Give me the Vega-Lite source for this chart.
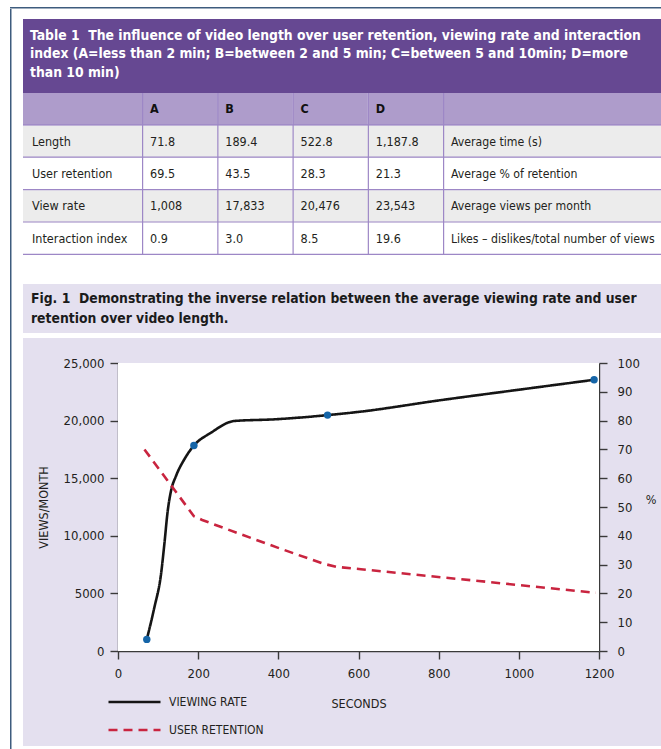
{
  "$schema": "https://vega.github.io/schema/vega-lite/v6.json",
  "padding": {"left": 10, "top": 7, "right": 0, "bottom": 0},
  "background": "#ffffff",
  "config": {
    "view": {"stroke": null},
    "font": "Liberation Sans Narrow, DejaVu Sans Condensed, Roboto Condensed, Liberation Sans, sans-serif",
    "text": {"font": "Liberation Sans Narrow, DejaVu Sans Condensed, Roboto Condensed, Liberation Sans, sans-serif"},
    "axis": {"zindex": 1, "grid": false, "domainColor": "#3a3a3a", "domainWidth": 1.4, "tickColor": "#3a3a3a", "tickWidth": 1.4, "tickSize": 8, "labelFont": "Liberation Sans Narrow, DejaVu Sans Condensed, Roboto Condensed, Liberation Sans, sans-serif", "labelFontSize": 13, "labelColor": "#231f20", "titleFont": "Liberation Sans Narrow, DejaVu Sans Condensed, Roboto Condensed, Liberation Sans, sans-serif", "titleFontSize": 12.5, "titleFontWeight": "normal", "titleColor": "#231f20", "labelFlush": false, "labelOverlap": false, "labelBound": false},
    "axisLeft": {"offset": -95, "labelPadding": 6, "titlePadding": 13},
    "axisRight": {"offset": -63, "labelPadding": 10, "titlePadding": 6, "titleAngle": 0, "titleAlign": "left", "titleBaseline": "middle"},
    "axisBottom": {"offset": -95, "labelPadding": 8, "titlePadding": 17},
    "legend": {"labelFont": "Liberation Sans Narrow, DejaVu Sans Condensed, Roboto Condensed, Liberation Sans, sans-serif"}
  },
  "datasets": {
    "tableTitle": [
      {"block": "Table 1", "line": 1, "text": "Table 1\u00a0 The influence of video length over user retention, viewing rate and interaction"},
      {"block": "Table 1", "line": 2, "text": "index (A=less than 2 min; B=between 2 and 5 min; C=between 5 and 10min; D=more"},
      {"block": "Table 1", "line": 3, "text": "than 10 min)"}
    ],
    "figCaption": [
      {"block": "Fig. 1", "line": 1, "text": "Fig. 1\u00a0 Demonstrating the inverse relation between the average viewing rate and user"},
      {"block": "Fig. 1", "line": 2, "text": "retention over video length."}
    ],
    "cells": [
      {"row": "Header", "col": "label", "text": ""},
      {"row": "Header", "col": "A", "text": "A"},
      {"row": "Header", "col": "B", "text": "B"},
      {"row": "Header", "col": "C", "text": "C"},
      {"row": "Header", "col": "D", "text": "D"},
      {"row": "Header", "col": "desc", "text": ""},
      {"row": "Length", "col": "label", "text": "Length"},
      {"row": "Length", "col": "A", "text": "71.8"},
      {"row": "Length", "col": "B", "text": "189.4"},
      {"row": "Length", "col": "C", "text": "522.8"},
      {"row": "Length", "col": "D", "text": "1,187.8"},
      {"row": "Length", "col": "desc", "text": "Average time (s)"},
      {"row": "User retention", "col": "label", "text": "User retention"},
      {"row": "User retention", "col": "A", "text": "69.5"},
      {"row": "User retention", "col": "B", "text": "43.5"},
      {"row": "User retention", "col": "C", "text": "28.3"},
      {"row": "User retention", "col": "D", "text": "21.3"},
      {"row": "User retention", "col": "desc", "text": "Average % of retention"},
      {"row": "View rate", "col": "label", "text": "View rate"},
      {"row": "View rate", "col": "A", "text": "1,008"},
      {"row": "View rate", "col": "B", "text": "17,833"},
      {"row": "View rate", "col": "C", "text": "20,476"},
      {"row": "View rate", "col": "D", "text": "23,543"},
      {"row": "View rate", "col": "desc", "text": "Average views per month"},
      {"row": "Interaction index", "col": "label", "text": "Interaction index"},
      {"row": "Interaction index", "col": "A", "text": "0.9"},
      {"row": "Interaction index", "col": "B", "text": "3.0"},
      {"row": "Interaction index", "col": "C", "text": "8.5"},
      {"row": "Interaction index", "col": "D", "text": "19.6"},
      {"row": "Interaction index", "col": "desc", "text": "Likes \u2013 dislikes/total number of views"}
    ],
    "viewing": [
      {"series": "VIEWING RATE", "seconds": 71.8, "views": 1008},
      {"series": "VIEWING RATE", "seconds": 90.6, "views": 3760},
      {"series": "VIEWING RATE", "seconds": 107.3, "views": 6660},
      {"series": "VIEWING RATE", "seconds": 115.6, "views": 9260},
      {"series": "VIEWING RATE", "seconds": 124, "views": 12150},
      {"series": "VIEWING RATE", "seconds": 132.2, "views": 13890},
      {"series": "VIEWING RATE", "seconds": 144.7, "views": 15190},
      {"series": "VIEWING RATE", "seconds": 165.5, "views": 16640},
      {"series": "VIEWING RATE", "seconds": 189.4, "views": 17833},
      {"series": "VIEWING RATE", "seconds": 232, "views": 18950},
      {"series": "VIEWING RATE", "seconds": 290, "views": 19965},
      {"series": "VIEWING RATE", "seconds": 390, "views": 20110},
      {"series": "VIEWING RATE", "seconds": 522.8, "views": 20476},
      {"series": "VIEWING RATE", "seconds": 606, "views": 20780},
      {"series": "VIEWING RATE", "seconds": 800, "views": 21750},
      {"series": "VIEWING RATE", "seconds": 1000, "views": 22680},
      {"series": "VIEWING RATE", "seconds": 1187.8, "views": 23543}
    ],
    "markers": [
      {"group": "A", "seconds": 71.8, "views": 1008},
      {"group": "B", "seconds": 189.4, "views": 17833},
      {"group": "C", "seconds": 522.8, "views": 20476},
      {"group": "D", "seconds": 1187.8, "views": 23543}
    ],
    "retention": [
      {"series": "USER RETENTION", "seconds": 66, "pct": 70},
      {"series": "USER RETENTION", "seconds": 189.4, "pct": 46.8},
      {"series": "USER RETENTION", "seconds": 210, "pct": 45.5},
      {"series": "USER RETENTION", "seconds": 307, "pct": 40.5},
      {"series": "USER RETENTION", "seconds": 398, "pct": 35.9},
      {"series": "USER RETENTION", "seconds": 510, "pct": 30.4},
      {"series": "USER RETENTION", "seconds": 545, "pct": 29.2},
      {"series": "USER RETENTION", "seconds": 606, "pct": 28.4},
      {"series": "USER RETENTION", "seconds": 900, "pct": 24.3},
      {"series": "USER RETENTION", "seconds": 1192, "pct": 20.2}
    ]
  },
  "spacing": 0,
  "vconcat": [
    {"width": 651, "height": 1.5, "view": {"fill": "#3e5c7e"}, "data": {"values": []}, "mark": "point"},
    {
      "spacing": 0,
      "hconcat": [
        {"width": 1.5, "height": 740.5, "view": {"fill": "#3e5c7e"}, "data": {"values": []}, "mark": "point"},
        {"width": 10.5, "height": 1, "data": {"values": []}, "mark": "point"},
        {
          "spacing": 0,
          "vconcat": [
            {"width": 1, "height": 9.5, "data": {"values": []}, "mark": "point"},
            {
              "width": 639,
              "height": 74,
              "view": {"fill": "#664892"},
              "data": {"name": "tableTitle"},
              "mark": {"type": "text", "align": "left", "baseline": "middle", "color": "#ffffff", "fontSize": 13.8, "fontWeight": "bold", "dx": 7, "dy": -2},
              "encoding": {
                "x": {"field": "block", "type": "nominal", "bandPosition": 0, "axis": null, "scale": {"type": "band", "paddingInner": 0, "paddingOuter": 0}},
                "y": {"field": "line", "type": "ordinal", "axis": null, "scale": {"type": "point", "padding": 1.055}},
                "text": {"field": "text"}
              }
            },
            {
              "spacing": 0,
              "bounds": "flush",
              "hconcat": [
                {
                  "width": 119,
                  "height": 162,
                  "data": {"name": "cells"},
                  "transform": [{"filter": "datum.col === 'label'"}],
                  "layer": [
                    {
                      "mark": {"type": "rect"},
                      "encoding": {
                        "x": {"field": "col", "type": "nominal", "axis": null, "scale": {"type": "band", "paddingInner": 0, "paddingOuter": 0}},
                        "y": {"field": "row", "type": "nominal", "axis": null, "scale": {"type": "band", "domain": ["Header", "Length", "User retention", "View rate", "Interaction index"], "paddingInner": 0, "paddingOuter": 0}},
                        "fill": {"condition": [{"test": "datum.row === 'Header'", "value": "#ae9ccb"}, {"test": "datum.row === 'Length' || datum.row === 'View rate'", "value": "#ececec"}], "value": "#ffffff"}
                      }
                    },
                    {
                      "mark": {"type": "rule", "color": "#9d87c6", "strokeWidth": 1.2, "clip": true, "yOffset": -0.6},
                      "encoding": {"y": {"field": "row", "type": "nominal", "bandPosition": 1, "axis": null}}
                    },
                    {
                      "mark": {"type": "text", "align": "left", "baseline": "middle", "dx": 9, "fontSize": 12.5, "color": "#231f20"},
                      "encoding": {
                        "x": {"field": "col", "type": "nominal", "bandPosition": 0, "axis": null},
                        "y": {"field": "row", "type": "nominal", "bandPosition": 0.5, "axis": null},
                        "text": {"field": "text"}
                      }
                    }
                  ]
                },
                {
                  "width": 301,
                  "height": 162,
                  "data": {"name": "cells"},
                  "transform": [{"filter": "indexof(['A','B','C','D'], datum.col) >= 0"}],
                  "layer": [
                    {
                      "mark": {"type": "rect"},
                      "encoding": {
                        "x": {"field": "col", "type": "nominal", "axis": null, "scale": {"type": "band", "domain": ["A", "B", "C", "D"], "paddingInner": 0, "paddingOuter": 0}},
                        "y": {"field": "row", "type": "nominal", "axis": null, "scale": {"type": "band", "domain": ["Header", "Length", "User retention", "View rate", "Interaction index"], "paddingInner": 0, "paddingOuter": 0}},
                        "fill": {"condition": [{"test": "datum.row === 'Header'", "value": "#ae9ccb"}, {"test": "datum.row === 'Length' || datum.row === 'View rate'", "value": "#ececec"}], "value": "#ffffff"}
                      }
                    },
                    {
                      "transform": [{"filter": "datum.col === 'A'"}],
                      "mark": {"type": "rule", "color": "#9d87c6", "strokeWidth": 1.2, "clip": true, "yOffset": -0.6},
                      "encoding": {"y": {"field": "row", "type": "nominal", "bandPosition": 1, "axis": null}}
                    },
                    {
                      "transform": [{"filter": "datum.row === 'Header'"}],
                      "mark": {"type": "rule", "color": "#9d87c6", "strokeWidth": 1.2, "clip": true, "xOffset": 0.6},
                      "encoding": {"x": {"field": "col", "type": "nominal", "bandPosition": 0, "axis": null}}
                    },
                    {
                      "transform": [{"filter": "datum.row !== 'Header'"}],
                      "mark": {"type": "text", "align": "left", "baseline": "middle", "dx": 8, "fontSize": 12.5, "color": "#231f20"},
                      "encoding": {
                        "x": {"field": "col", "type": "nominal", "bandPosition": 0, "axis": null},
                        "y": {"field": "row", "type": "nominal", "bandPosition": 0.5, "axis": null},
                        "text": {"field": "text"}
                      }
                    },
                    {
                      "transform": [{"filter": "datum.row === 'Header'"}],
                      "mark": {"type": "text", "align": "left", "baseline": "middle", "dx": 8, "fontSize": 12.5, "fontWeight": "bold", "color": "#111111"},
                      "encoding": {
                        "x": {"field": "col", "type": "nominal", "bandPosition": 0, "axis": null},
                        "y": {"field": "row", "type": "nominal", "bandPosition": 0.5, "axis": null},
                        "text": {"field": "text"}
                      }
                    }
                  ]
                },
                {
                  "width": 219,
                  "height": 162,
                  "data": {"name": "cells"},
                  "transform": [{"filter": "datum.col === 'desc'"}],
                  "layer": [
                    {
                      "mark": {"type": "rect"},
                      "encoding": {
                        "x": {"field": "col", "type": "nominal", "axis": null, "scale": {"type": "band", "paddingInner": 0, "paddingOuter": 0}},
                        "y": {"field": "row", "type": "nominal", "axis": null, "scale": {"type": "band", "domain": ["Header", "Length", "User retention", "View rate", "Interaction index"], "paddingInner": 0, "paddingOuter": 0}},
                        "fill": {"condition": [{"test": "datum.row === 'Header'", "value": "#ae9ccb"}, {"test": "datum.row === 'Length' || datum.row === 'View rate'", "value": "#ececec"}], "value": "#ffffff"}
                      }
                    },
                    {
                      "mark": {"type": "rule", "color": "#9d87c6", "strokeWidth": 1.2, "clip": true, "yOffset": -0.6},
                      "encoding": {"y": {"field": "row", "type": "nominal", "bandPosition": 1, "axis": null}}
                    },
                    {
                      "transform": [{"filter": "datum.row === 'Header'"}],
                      "mark": {"type": "rule", "color": "#9d87c6", "strokeWidth": 1.2, "clip": true, "xOffset": 0.6},
                      "encoding": {"x": {"field": "col", "type": "nominal", "bandPosition": 0, "axis": null}}
                    },
                    {
                      "mark": {"type": "text", "align": "left", "baseline": "middle", "dx": 8, "fontSize": 12.2, "color": "#231f20"},
                      "encoding": {
                        "x": {"field": "col", "type": "nominal", "bandPosition": 0, "axis": null},
                        "y": {"field": "row", "type": "nominal", "bandPosition": 0.5, "axis": null},
                        "text": {"field": "text"}
                      }
                    }
                  ]
                }
              ]
            },
            {"width": 1, "height": 29, "data": {"values": []}, "mark": "point"},
            {
              "width": 639,
              "height": 49,
              "view": {"fill": "#e4e0ef"},
              "data": {"name": "figCaption"},
              "mark": {"type": "text", "align": "left", "baseline": "middle", "color": "#1b1b1b", "fontSize": 13.8, "fontWeight": "bold", "dx": 8},
              "encoding": {
                "x": {"field": "block", "type": "nominal", "bandPosition": 0, "axis": null, "scale": {"type": "band", "paddingInner": 0, "paddingOuter": 0}},
                "y": {"field": "line", "type": "ordinal", "axis": null, "scale": {"type": "point", "padding": 0.725}},
                "text": {"field": "text"}
              }
            },
            {"width": 1, "height": 5, "data": {"values": []}, "mark": "point"},
            {
              "width": 639,
              "height": 408,
              "view": {"fill": "#e4e0ef"},
              "layer": [
                {
                  "layer": [
                    {
                      "data": {"values": [{}]},
                      "mark": {"type": "rect", "fill": "#ffffff"},
                      "encoding": {
                        "x": {"datum": 0, "type": "quantitative", "scale": {"domain": [0, 1200], "range": [95, 576], "nice": false, "zero": false}, "axis": {"title": "SECONDS", "values": [0, 200, 400, 600, 800, 1000, 1200], "format": "d"}},
                        "x2": {"datum": 1200},
                        "y": {"datum": 0, "type": "quantitative", "scale": {"domain": [0, 25000], "range": [313, 25], "nice": false}, "axis": {"title": "VIEWS/MONTH", "values": [0, 5000, 10000, 15000, 20000, 25000], "labelExpr": "datum.value >= 10000 ? format(datum.value, ',') : format(datum.value, 'd')"}},
                        "y2": {"datum": 25000}
                      }
                    },
                    {
                      "data": {"name": "viewing"},
                      "mark": {"type": "line", "interpolate": "monotone", "strokeWidth": 2.6},
                      "encoding": {
                        "x": {"field": "seconds", "type": "quantitative", "scale": {"domain": [0, 1200], "range": [95, 576], "nice": false, "zero": false}, "axis": {"title": "SECONDS", "values": [0, 200, 400, 600, 800, 1000, 1200], "format": "d"}},
                        "y": {"field": "views", "type": "quantitative", "scale": {"domain": [0, 25000], "range": [313, 25], "nice": false}, "axis": {"title": "VIEWS/MONTH", "values": [0, 5000, 10000, 15000, 20000, 25000], "labelExpr": "datum.value >= 10000 ? format(datum.value, ',') : format(datum.value, 'd')"}},
                        "color": {"field": "series", "type": "nominal", "scale": {"domain": ["VIEWING RATE", "USER RETENTION"], "range": ["#151515", "#c9243f"]}, "legend": {"title": null, "orient": "none", "legendX": 97, "legendY": 688, "symbolType": "stroke", "symbolSize": 2704, "symbolStrokeWidth": 2.6, "labelFontSize": 12, "labelColor": "#231f20", "labelOffset": 7, "clipHeight": 14, "rowPadding": 14, "padding": 0}},
                        "strokeDash": {"field": "series", "type": "nominal", "scale": {"domain": ["VIEWING RATE", "USER RETENTION"], "range": [[1, 0], [9, 6]]}, "legend": {"title": null, "orient": "none", "legendX": 97, "legendY": 688, "symbolType": "stroke", "symbolSize": 2704, "symbolStrokeWidth": 2.6, "labelFontSize": 12, "labelColor": "#231f20", "labelOffset": 7, "clipHeight": 14, "rowPadding": 14, "padding": 0}}
                      }
                    },
                    {
                      "data": {"name": "markers"},
                      "mark": {"type": "circle", "size": 55, "color": "#1565a8", "opacity": 1},
                      "encoding": {
                        "x": {"field": "seconds", "type": "quantitative", "scale": {"domain": [0, 1200], "range": [95, 576], "nice": false, "zero": false}, "axis": {"title": "SECONDS", "values": [0, 200, 400, 600, 800, 1000, 1200], "format": "d"}},
                        "y": {"field": "views", "type": "quantitative", "scale": {"domain": [0, 25000], "range": [313, 25], "nice": false}, "axis": {"title": "VIEWS/MONTH", "values": [0, 5000, 10000, 15000, 20000, 25000], "labelExpr": "datum.value >= 10000 ? format(datum.value, ',') : format(datum.value, 'd')"}}
                      }
                    }
                  ]
                },
                {
                  "data": {"name": "retention"},
                  "mark": {"type": "line", "strokeWidth": 2.6},
                  "encoding": {
                    "x": {"field": "seconds", "type": "quantitative", "scale": {"domain": [0, 1200], "range": [95, 576], "nice": false, "zero": false}, "axis": {"title": "SECONDS", "values": [0, 200, 400, 600, 800, 1000, 1200], "format": "d"}},
                    "y": {"field": "pct", "type": "quantitative", "scale": {"domain": [0, 100], "range": [313, 25], "nice": false}, "axis": {"orient": "right", "title": "%", "titleY": 161, "values": [0, 10, 20, 30, 40, 50, 60, 70, 80, 90, 100], "format": "d"}},
                    "color": {"field": "series", "type": "nominal", "scale": {"domain": ["VIEWING RATE", "USER RETENTION"], "range": ["#151515", "#c9243f"]}, "legend": {"title": null, "orient": "none", "legendX": 97, "legendY": 688, "symbolType": "stroke", "symbolSize": 2704, "symbolStrokeWidth": 2.6, "labelFontSize": 12, "labelColor": "#231f20", "labelOffset": 7, "clipHeight": 14, "rowPadding": 14, "padding": 0}},
                    "strokeDash": {"field": "series", "type": "nominal", "scale": {"domain": ["VIEWING RATE", "USER RETENTION"], "range": [[1, 0], [9, 6]]}, "legend": {"title": null, "orient": "none", "legendX": 97, "legendY": 688, "symbolType": "stroke", "symbolSize": 2704, "symbolStrokeWidth": 2.6, "labelFontSize": 12, "labelColor": "#231f20", "labelOffset": 7, "clipHeight": 14, "rowPadding": 14, "padding": 0}}
                  }
                }
              ],
              "resolve": {"scale": {"y": "independent"}}
            }
          ]
        }
      ]
    }
  ]
}
